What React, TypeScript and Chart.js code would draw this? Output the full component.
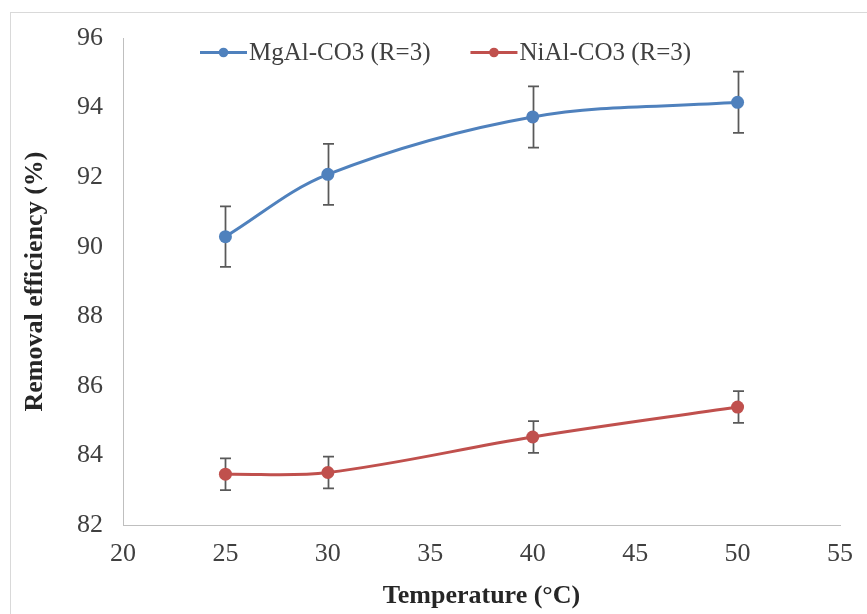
import React, { useEffect, useRef } from "react";
import { Chart, registerables } from "chart.js";

Chart.register(...registerables);

// Temperature (°C) at which each removal test was run
const temperatures = [25, 30, 40, 50];

// Removal efficiency (%) and error-bar half widths per adsorbent
const mgAlEfficiency = [90.29, 92.08, 93.73, 94.15];
const mgAlError = [0.87, 0.875, 0.88, 0.88];
const niAlEfficiency = [83.46, 83.51, 84.53, 85.39];
const niAlError = [0.455, 0.455, 0.455, 0.455];

const seriesLabels = ["MgAl-CO3 (R=3)", "NiAl-CO3 (R=3)"];
const seriesColors = ["#4F81BD", "#C0504D"];

const xRange = { min: 20, max: 55, step: 5 };
const yRange = { min: 82, max: 96, step: 2 };

const SERIF = "'Liberation Serif', 'Times New Roman', serif";

const toPoints = (values: number[]) =>
  temperatures.map((t, i) => ({ x: t, y: values[i] }));

// Vertical error bars with end caps, drawn beneath the lines and markers
const errorBarPlugin = {
  id: "errorBars",
  beforeDatasetsDraw(chart: any) {
    const { ctx, scales } = chart;
    const xs = scales.x;
    const ys = scales.y;
    ctx.save();
    ctx.strokeStyle = "#595959";
    ctx.lineWidth = 1.75;
    chart.data.datasets.forEach((ds: any) => {
      const errs: number[] = ds.errors || [];
      ds.data.forEach((pt: any, j: number) => {
        const e = errs[j];
        if (e == null) return;
        const px = Math.round(xs.getPixelForValue(pt.x)) + 0.5;
        const top = ys.getPixelForValue(pt.y + e);
        const bot = ys.getPixelForValue(pt.y - e);
        const cap = 5.5;
        ctx.beginPath();
        ctx.moveTo(px, top);
        ctx.lineTo(px, bot);
        ctx.moveTo(px - cap, top);
        ctx.lineTo(px + cap, top);
        ctx.moveTo(px - cap, bot);
        ctx.lineTo(px + cap, bot);
        ctx.stroke();
      });
    });
    ctx.restore();
  },
};

// Light outer frame around the whole figure
const framePlugin = {
  id: "frame",
  beforeDraw(chart: any) {
    const { ctx } = chart;
    ctx.save();
    ctx.strokeStyle = "#D9D9D9";
    ctx.lineWidth = 1;
    ctx.strokeRect(10.5, 12.5, chart.width + 20, chart.height + 20);
    ctx.restore();
  },
};

// One-row legend laid over the top of the plot area
const inlineLegendPlugin = {
  id: "inlineLegend",
  afterDraw(chart: any, _args: any, opts: any) {
    const { ctx } = chart;
    const lineLen = 47;
    const itemGap = 40;
    ctx.save();
    ctx.font = `${opts.fontSize}px ${SERIF}`;
    ctx.textBaseline = "middle";
    ctx.textAlign = "left";
    let x = opts.x;
    const y = opts.y;
    chart.data.datasets.forEach((ds: any) => {
      ctx.strokeStyle = ds.borderColor;
      ctx.lineWidth = 3;
      ctx.beginPath();
      ctx.moveTo(x, y);
      ctx.lineTo(x + lineLen, y);
      ctx.stroke();
      ctx.fillStyle = ds.borderColor;
      ctx.beginPath();
      ctx.arc(x + lineLen / 2, y, 4.8, 0, Math.PI * 2);
      ctx.fill();
      ctx.fillStyle = "#404040";
      const tx = x + lineLen + 2;
      ctx.fillText(ds.label, tx, y + 1);
      x = tx + ctx.measureText(ds.label).width + itemGap;
    });
    ctx.restore();
  },
};

export default function App() {
  const canvasRef = useRef<HTMLCanvasElement | null>(null);

  useEffect(() => {
    document.body.style.margin = "0";
    const canvas = canvasRef.current;
    if (!canvas) return;

    const makeDataset = (i: number, values: number[], errors: number[]) => ({
      label: seriesLabels[i],
      data: toPoints(values),
      errors,
      borderColor: seriesColors[i],
      backgroundColor: seriesColors[i],
      pointBackgroundColor: seriesColors[i],
      pointBorderColor: seriesColors[i],
      pointBorderWidth: 0,
      pointRadius: 6.5,
      borderWidth: 3,
      tension: 0.35,
      fill: false,
      clip: false,
    });

    const chart = new Chart(canvas, {
      type: "line",
      data: {
        datasets: [
          makeDataset(0, mgAlEfficiency, mgAlError),
          makeDataset(1, niAlEfficiency, niAlError),
        ] as any,
      },
      options: {
        animation: false,
        responsive: false,
        devicePixelRatio: 1,
        layout: { padding: { top: 38, right: 24, bottom: 0, left: 0 } },
        plugins: {
          legend: { display: false },
          tooltip: { enabled: false },
          inlineLegend: { x: 200, y: 52.5, fontSize: 25 },
        } as any,
        scales: {
          x: {
            type: "linear",
            min: xRange.min,
            max: xRange.max,
            grid: { display: false, drawTicks: false },
            border: { display: true, color: "#BFBFBF", width: 1 },
            ticks: {
              stepSize: xRange.step,
              padding: 14,
              color: "#404040",
              font: { family: SERIF, size: 26 },
            },
            title: {
              display: true,
              text: "Temperature (°C)",
              color: "#262626",
              font: { family: SERIF, size: 26, weight: "bold" },
              padding: { top: 0, bottom: 2 },
            },
            afterFit(scale: any) {
              scale.height = 89;
            },
          },
          y: {
            type: "linear",
            min: yRange.min,
            max: yRange.max,
            grid: { display: false, drawTicks: false },
            border: { display: true, color: "#BFBFBF", width: 1 },
            ticks: {
              stepSize: yRange.step,
              padding: 20,
              color: "#404040",
              font: { family: SERIF, size: 26 },
            },
            title: {
              display: true,
              text: "Removal efficiency (%)",
              color: "#262626",
              font: { family: SERIF, size: 26, weight: "bold" },
              padding: { top: 20, bottom: 0 },
            },
            afterFit(scale: any) {
              scale.width = 123;
            },
          },
        },
      } as any,
      plugins: [framePlugin, errorBarPlugin, inlineLegendPlugin],
    });

    return () => chart.destroy();
  }, []);

  return (
    <canvas
      ref={canvasRef}
      width={867}
      height={614}
      style={{ display: "block", width: 867, height: 614 }}
    />
  );
}
